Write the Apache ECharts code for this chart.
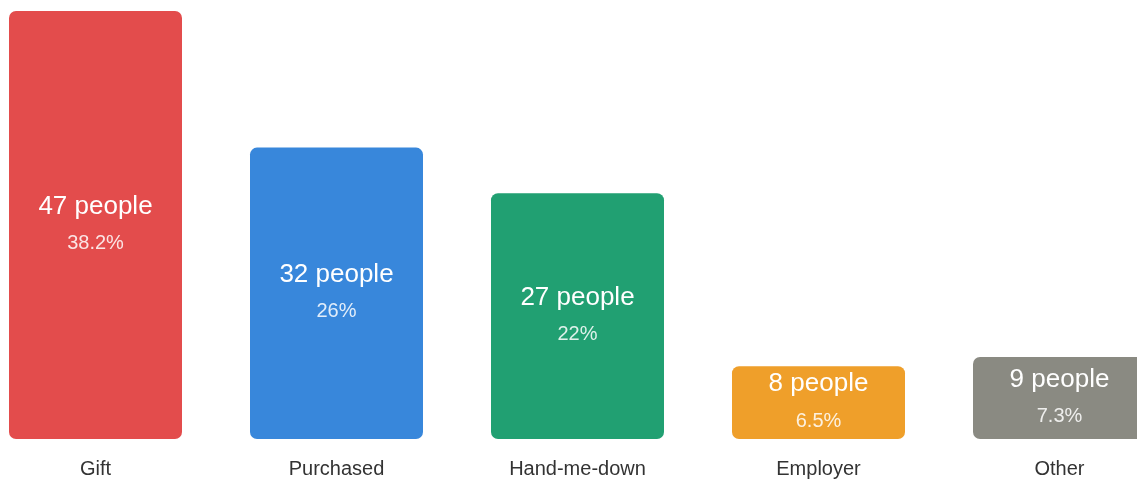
<!DOCTYPE html>
<html>
<head>
<meta charset="utf-8">
<script src="https://cdn.jsdelivr.net/npm/echarts@6/dist/echarts.min.js"></script>
<style>
    html, body { margin: 0; padding: 0; background: #fff; }
    #chart { width: 1137px; height: 482px; }
</style>
</head>
<body>
<div id="chart"></div>
<script>
const categories = ['Gift', 'Purchased', 'Hand-me-down', 'Employer', 'Other'];
const people = [47, 32, 27, 8, 9];
const percents = ['38.2%', '26%', '22%', '6.5%', '7.3%'];
const colors = ['#e34c4c', '#3887db', '#21a072', '#ef9f2a', '#8a8a82'];

document.addEventListener('DOMContentLoaded', () => {
    const chartDom = document.getElementById('chart');
    const myChart = echarts.init(chartDom);
    const font = 'Liberation Sans, Arial, sans-serif';

    const option = {
        animation: false,
        grid: {
            left: -25,
            width: 1205,
            top: 11,
            bottom: 43,
            outerBoundsMode: 'none',
            containLabel: false
        },
        xAxis: {
            type: 'category',
            data: categories,
            axisLine: { show: false },
            axisTick: { show: false },
            axisLabel: {
                color: '#333',
                fontSize: 20,
                fontFamily: font,
                margin: 20
            }
        },
        yAxis: {
            type: 'value',
            min: 0,
            max: 47,
            show: false,
            splitLine: { show: false }
        },
        series: [{
            type: 'bar',
            barWidth: 173,
            data: people.map((v, i) => ({
                value: v,
                itemStyle: { color: colors[i], borderRadius: 7 }
            })),
            label: {
                show: true,
                position: 'inside',
                formatter: params => `{a|${params.value} people}\n{b|${percents[params.dataIndex]}}`,
                rich: {
                    a: {
                        color: '#fff',
                        fontSize: 26,
                        fontFamily: font,
                        lineHeight: 37
                    },
                    b: {
                        color: 'rgba(255,255,255,0.85)',
                        fontSize: 20,
                        fontFamily: font,
                        lineHeight: 37
                    }
                }
            }
        }]
    };
    myChart.setOption(option);
});
</script>
</body>
</html>
